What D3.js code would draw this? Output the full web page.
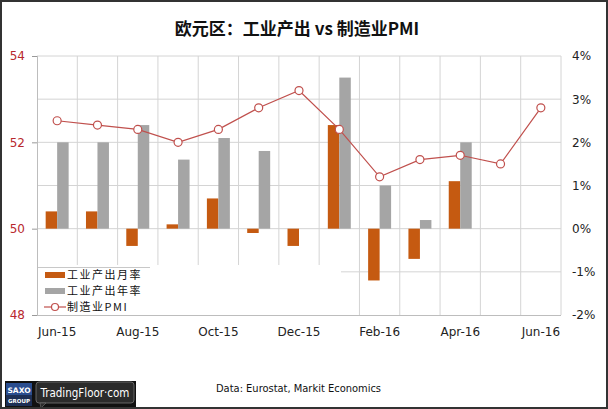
<!DOCTYPE html>
<html>
<head>
<meta charset="utf-8">
<script src="https://cdn.jsdelivr.net/npm/d3@7"></script>
<style>
  body { margin: 0; background: #fff; }
  svg { display: block; }
</style>
</head>
<body>
<svg id="chart" width="608" height="409"></svg>
<script>
// data
const months = ["Jun-15", "Jul-15", "Aug-15", "Sep-15", "Oct-15", "Nov-15", "Dec-15",
                "Jan-16", "Feb-16", "Mar-16", "Apr-16", "May-16", "Jun-16"];
const ipMoM = [0.4, 0.4, -0.4, 0.1, 0.7, -0.1, -0.4, 2.4, -1.2, -0.7, 1.1, null, null];
const ipYoY = [2.0, 2.0, 2.4, 1.6, 2.1, 1.8, 0.0, 3.5, 1.0, 0.2, 2.0, null, null];
const pmi = [52.5, 52.4, 52.3, 52.0, 52.3, 52.8, 53.2, 52.3, 51.2, 51.6, 51.7, 51.5, 52.8];
const leftTicks = [48, 50, 52, 54];
const rightTicks = [-2, -1, 0, 1, 2, 3, 4];
const xLabels = ["Jun-15", "Aug-15", "Oct-15", "Dec-15", "Feb-16", "Apr-16", "Jun-16"];
const legendNames = ["工业产出月率", "工业产出年率", "制造业PMI"];

const W = 608, H = 409;
const plot = { left: 37, right: 561, top: 56, bottom: 315 };

const svg = d3.select("#chart");
const font = "'DejaVu Sans', sans-serif";
const cjk = "'Noto Sans CJK SC', sans-serif";

const x = d3.scaleBand().domain(months).range([plot.left, plot.right]).padding(0);
const yL = d3.scaleLinear().domain([48, 54]).range([plot.bottom, plot.top]);
const yR = d3.scaleLinear().domain([-2, 4]).range([plot.bottom, plot.top]);

// title
svg.append("text")
  .attr("x", 297).attr("y", 35)
  .attr("text-anchor", "middle")
  .style("font-family", cjk).style("font-size", "17px").style("font-weight", "bold")
  .attr("fill", "#111")
  .text("欧元区：工业产出 vs 制造业PMI");

// gridlines
const g = svg.append("g");
g.selectAll("line.h")
  .data(d3.range(49, 55))
  .enter().append("line")
  .attr("x1", plot.left).attr("x2", plot.right)
  .attr("y1", d => yL(d)).attr("y2", d => yL(d))
  .attr("stroke", "#d4d4d4").attr("stroke-width", 1);

g.selectAll("line.v")
  .data(months.slice(1).concat(["end"]))
  .enter().append("line")
  .attr("x1", (d, i) => plot.left + x.step() * (i + 1))
  .attr("x2", (d, i) => plot.left + x.step() * (i + 1))
  .attr("y1", plot.top).attr("y2", plot.bottom)
  .attr("stroke", "#d4d4d4").attr("stroke-width", 1);

// bars
const bw = x.bandwidth() * 0.285;
svg.append("g").selectAll("rect")
  .data(months.map((m, i) => ({ m, v: ipMoM[i] })).filter(d => d.v !== null && d.v !== 0))
  .enter().append("rect")
  .attr("x", d => x(d.m) + x.bandwidth() / 2 - bw)
  .attr("width", bw)
  .attr("y", d => yR(Math.max(0, d.v)))
  .attr("height", d => Math.abs(yR(d.v) - yR(0)))
  .attr("fill", "#c55a11");

svg.append("g").selectAll("rect")
  .data(months.map((m, i) => ({ m, v: ipYoY[i] })).filter(d => d.v !== null && d.v !== 0))
  .enter().append("rect")
  .attr("x", d => x(d.m) + x.bandwidth() / 2)
  .attr("width", bw)
  .attr("y", d => yR(Math.max(0, d.v)))
  .attr("height", d => Math.abs(yR(d.v) - yR(0)))
  .attr("fill", "#a5a5a5");

// PMI line
const line = d3.line()
  .x((d, i) => x(months[i]) + x.bandwidth() / 2)
  .y(d => yL(d));

svg.append("path")
  .datum(pmi)
  .attr("d", line)
  .attr("fill", "none")
  .attr("stroke", "#c0504d")
  .attr("stroke-width", 1.2);

svg.append("g").selectAll("circle")
  .data(pmi)
  .enter().append("circle")
  .attr("cx", (d, i) => x(months[i]) + x.bandwidth() / 2)
  .attr("cy", d => yL(d))
  .attr("r", 4)
  .attr("fill", "#fff")
  .attr("stroke", "#c0504d")
  .attr("stroke-width", 1.2);

// legend box (covers the plot)
const lg = svg.append("g");
lg.append("rect")
  .attr("x", plot.left).attr("y", 265)
  .attr("width", 304).attr("height", plot.bottom - 265)
  .attr("fill", "#fff");
lg.append("line")
  .attr("x1", plot.left).attr("x2", 150)
  .attr("y1", 267.5).attr("y2", 267.5)
  .attr("stroke", "#c8c8c8");

legendNames.forEach((name, i) => {
  const ly = 275 + i * 16;
  if (i < 2) {
    lg.append("rect")
      .attr("x", 45).attr("y", ly - 3)
      .attr("width", 20).attr("height", 6)
      .attr("fill", i === 0 ? "#c55a11" : "#a5a5a5");
  } else {
    lg.append("line")
      .attr("x1", 44).attr("x2", 66)
      .attr("y1", ly).attr("y2", ly)
      .attr("stroke", "#c0504d").attr("stroke-width", 1.2);
    lg.append("circle")
      .attr("cx", 55).attr("cy", ly).attr("r", 3.5)
      .attr("fill", "#fff").attr("stroke", "#c0504d").attr("stroke-width", 1.2);
  }
  lg.append("text")
    .attr("x", 67).attr("y", ly + 4)
    .style("font-family", cjk).style("font-size", "11px")
    .style("letter-spacing", "1.5px")
    .attr("fill", "#111")
    .text(name);
});

// axes lines
svg.append("line")
  .attr("x1", plot.left + 0.5).attr("x2", plot.left + 0.5)
  .attr("y1", plot.top).attr("y2", plot.bottom)
  .attr("stroke", "#bdbdbd");
svg.append("line")
  .attr("x1", plot.left).attr("x2", plot.right)
  .attr("y1", plot.bottom + 0.5).attr("y2", plot.bottom + 0.5)
  .attr("stroke", "#bdbdbd");

// left axis
const leftAxis = svg.append("g")
  .attr("transform", `translate(${plot.left},0)`)
  .call(d3.axisLeft(yL).tickValues(leftTicks).tickSize(5).tickPadding(7).tickFormat(d3.format("d")));
leftAxis.select(".domain").remove();
leftAxis.selectAll(".tick line").attr("stroke", "#999");
leftAxis.selectAll("text")
  .style("font-family", font).style("font-size", "12px")
  .attr("fill", "#b8282e");

// right axis
const rightAxis = svg.append("g")
  .attr("transform", `translate(${plot.right},0)`)
  .call(d3.axisRight(yR).tickValues(rightTicks).tickSize(0).tickPadding(11).tickFormat(d => d + "%"));
rightAxis.select(".domain").remove();
rightAxis.selectAll("text")
  .style("font-family", font).style("font-size", "12px")
  .attr("fill", "#222");

// bottom axis
const bottomAxis = svg.append("g")
  .attr("transform", `translate(0,${plot.bottom})`)
  .call(d3.axisBottom(x).tickValues(xLabels).tickSize(0).tickPadding(12));
bottomAxis.select(".domain").remove();
bottomAxis.selectAll("text")
  .style("font-family", font).style("font-size", "12px")
  .attr("fill", "#222");

// footer
svg.append("text")
  .attr("x", 216).attr("y", 392)
  .style("font-family", "'DejaVu Sans Condensed', sans-serif").style("font-size", "11px")
  .attr("fill", "#111")
  .text("Data: Eurostat, Markit Economics");

const logo = svg.append("g");
logo.append("rect").attr("x", 5).attr("y", 381).attr("width", 131).attr("height", 27).attr("fill", "#111");
logo.append("rect").attr("x", 6).attr("y", 383).attr("width", 26).attr("height", 12).attr("fill", "#2a4d8f");
logo.append("rect").attr("x", 6).attr("y", 395).attr("width", 26).attr("height", 11).attr("fill", "#1d2f55");
logo.append("text").attr("x", 19).attr("y", 392.5).attr("text-anchor", "middle")
  .style("font-family", font).style("font-size", "7.5px").style("font-weight", "bold")
  .attr("fill", "#fff").text("SAXO");
logo.append("text").attr("x", 19).attr("y", 403).attr("text-anchor", "middle")
  .style("font-family", font).style("font-size", "5.5px").style("font-weight", "bold")
  .attr("fill", "#fff").text("GROUP");
logo.append("rect").attr("x", 36).attr("y", 382).attr("width", 98).attr("height", 21).attr("rx", 3)
  .attr("fill", "#2b2b2b").attr("stroke", "#777").attr("stroke-width", 0.8);
logo.append("path").attr("d", "M40,403 L41,408 L46,403 Z").attr("fill", "#2b2b2b").attr("stroke", "#777").attr("stroke-width", 0.6);
logo.append("text").attr("x", 85).attr("y", 397).attr("text-anchor", "middle")
  .style("font-family", "'DejaVu Sans Condensed', sans-serif").style("font-size", "11.5px")
  .attr("fill", "#fff").text("TradingFloor·com");

// outer frame
svg.append("rect")
  .attr("x", 1).attr("y", 1).attr("width", W - 2).attr("height", H - 2)
  .attr("fill", "none").attr("stroke", "#333").attr("stroke-width", 2);
</script>
</body>
</html>
